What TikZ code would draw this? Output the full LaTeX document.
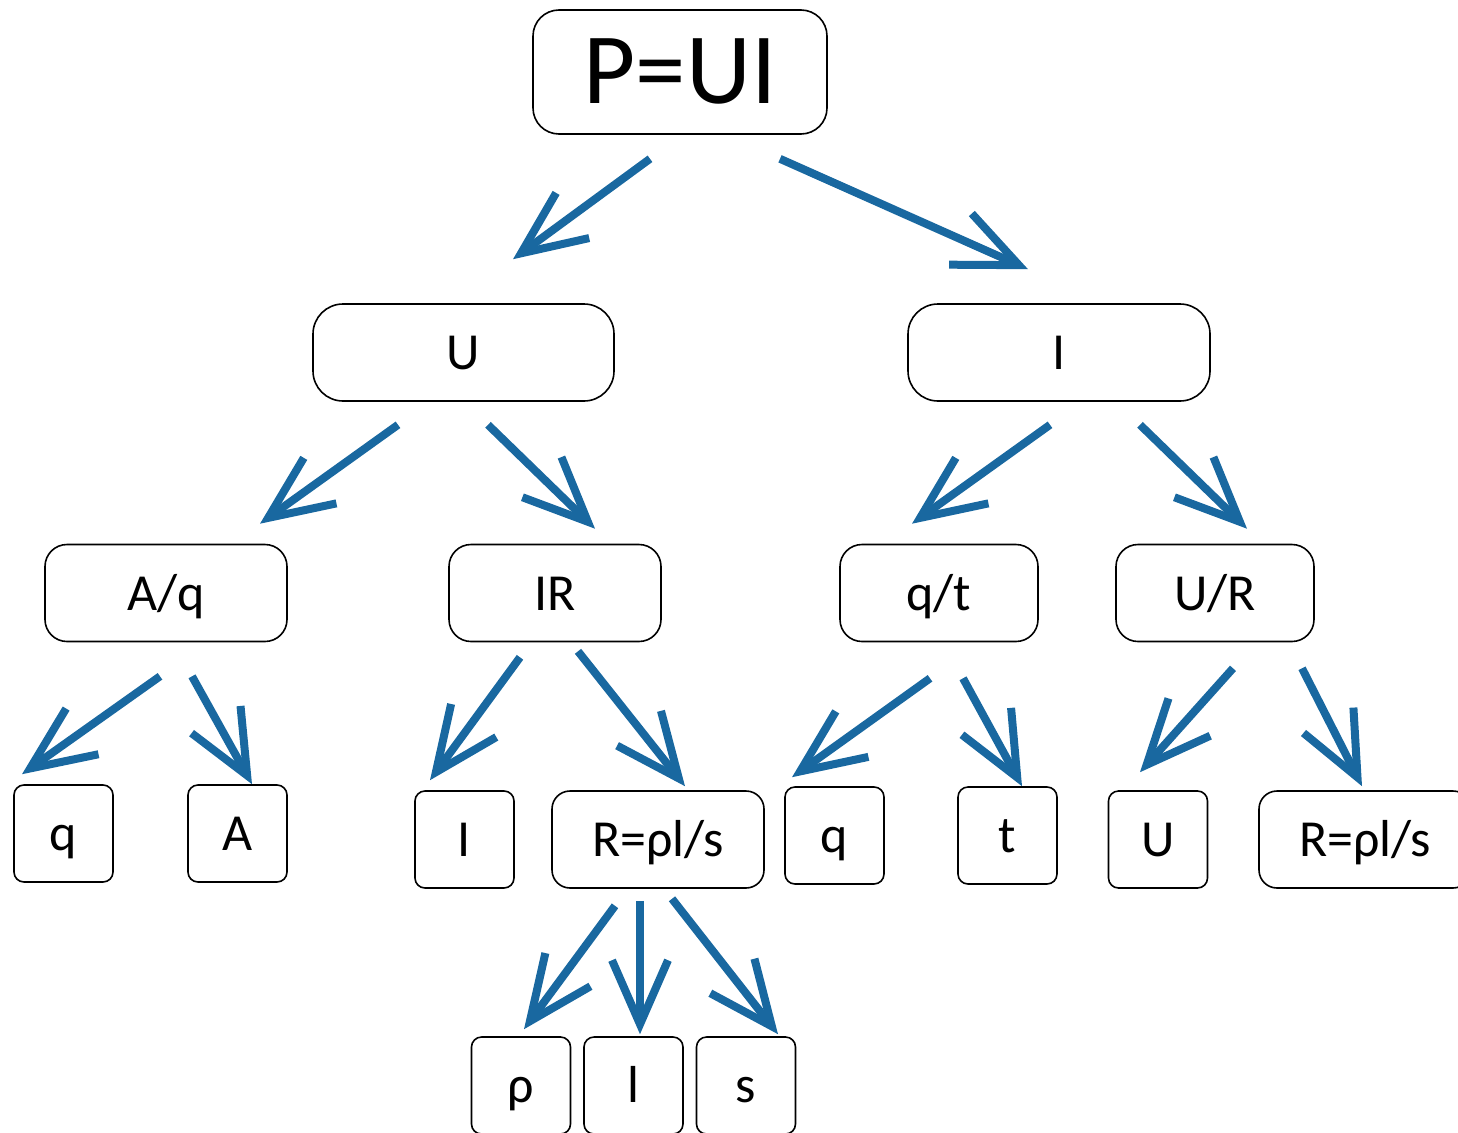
\documentclass[tikz,border=0pt]{standalone}
\usepackage{fontspec}
\setmainfont{Carlito}
\usetikzlibrary{arrows.meta}

\definecolor{arrowblue}{RGB}{25,104,160}

\begin{document}
\begin{tikzpicture}[x=1pt, y=-1pt,
  box/.style={draw, line width=1.6pt, rounded corners=22pt, minimum height=97pt, inner sep=0pt,
    font=\fontsize{52}{60}\selectfont, text height=34pt, text depth=0pt},
  leaf/.style={box, rounded corners=10pt, minimum width=99pt},
  arr/.style={draw=arrowblue, line width=8pt, -{Straight Barb[length=64pt, width=56pt]}}]
\useasboundingbox (0,0) rectangle (1458,1132);

% top formula
\node (pui) at (680,72)[box, rounded corners=26pt, minimum width=294pt, minimum height=124pt,
  font=\fontsize{101}{115}\selectfont, text height=62pt]{P=UI};

% second row
\node (u) at (463.5,352.5)[box, rounded corners=30pt, minimum width=301pt]{U};
\node (i) at (1059,352.5)[box, rounded corners=30pt, minimum width=302pt]{I};

% third row
\node (aq) at (166,593)[box, minimum width=242pt]{A/q};
\node (ir) at (555,593)[box, minimum width=212pt]{IR};
\node (qt) at (939,593)[box, minimum width=198pt]{q/t};
\node (ur) at (1215,593)[box, minimum width=198pt]{U/R};

% fourth row
\node (q1) at (63.5,833.5)[leaf]{q};
\node (a1) at (237.5,833.5)[leaf]{A};
\node (i2) at (464.5,839.5)[leaf]{I};
\node (r1) at (658,839.5)[box, rounded corners=18pt, minimum width=212pt]{R=ρl/s};
\node (q2) at (834.5,835.5)[leaf]{q};
\node (t2) at (1007.5,835.5)[leaf]{t};
\node (u2) at (1158,839.5)[leaf]{U};
\node (r2) at (1365,839.5)[box, rounded corners=18pt, minimum width=212pt]{R=ρl/s};

% last row
\node (rho) at (521,1085.5)[leaf]{ρ};
\node (ll) at (633.5,1085.5)[leaf]{l};
\node (ss) at (746,1085.5)[leaf]{s};

% arrows
\draw[arr] ([shift={(-30,24)}]pui.south) -- ([shift={(49.5,-44)}]u.north);
\draw[arr] ([shift={(100,24)}]pui.south) -- ([shift={(-31,-34)}]i.north);

\draw[arr] ([shift={(-65.5,23)}]u.south) -- ([shift={(94,-20)}]aq.north);
\draw[arr] ([shift={(24.5,23)}]u.south) -- ([shift={(40,-15)}]ir.north);
\draw[arr] ([shift={(-9,23)}]i.south) -- ([shift={(-27,-20)}]qt.north);
\draw[arr] ([shift={(81,23)}]i.south) -- ([shift={(32,-15)}]ur.north);

\draw[arr] ([shift={(-6,34)}]aq.south) -- ([shift={(-41.5,-10)}]q1.north);
\draw[arr] ([shift={(26,34)}]aq.south) -- ([shift={(14.5,0)}]a1.north);
\draw[arr] ([shift={(-35,15)}]ir.south) -- ([shift={(-34.5,-10)}]i2.north);
\draw[arr] ([shift={(23,9)}]ir.south) -- ([shift={(27,-4)}]r1.north);
\draw[arr] ([shift={(-9,36)}]qt.south) -- ([shift={(-42.5,-9)}]q2.north);
\draw[arr] ([shift={(24,36)}]qt.south) -- ([shift={(14.5,0)}]t2.north);
\draw[arr] ([shift={(18,26)}]ur.south) -- ([shift={(-18,-18)}]u2.north);
\draw[arr] ([shift={(87,26)}]ur.south) -- ([shift={(-3,-4)}]r2.north);

\draw[arr] ([shift={(-43,17)}]r1.south) -- ([shift={(3,-7)}]rho.north);
\draw[arr] ([shift={(-18,12)}]r1.south) -- ([shift={(6.5,-2)}]ll.north);
\draw[arr] ([shift={(14,10)}]r1.south) -- ([shift={(32,-2)}]ss.north);

\end{tikzpicture}
\end{document}
